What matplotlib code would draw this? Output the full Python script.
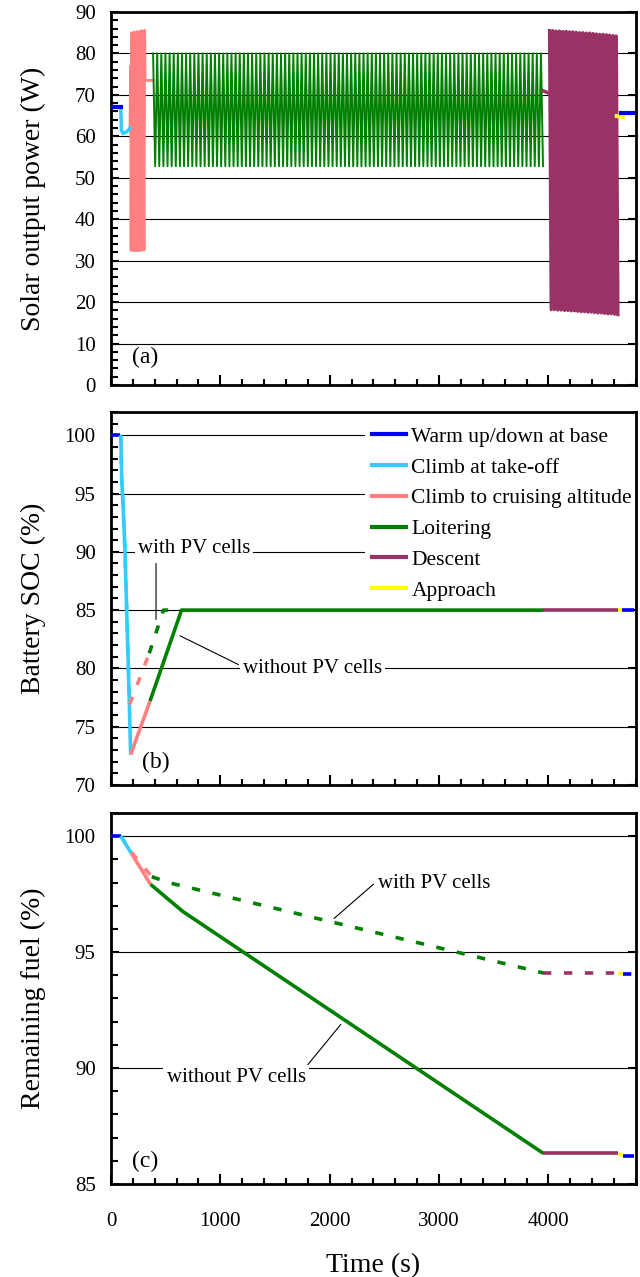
import matplotlib
matplotlib.use('Agg')
import matplotlib.pyplot as plt
import matplotlib.ticker as mticker
from matplotlib.lines import Line2D
import numpy as np

# ═══════════════════════════════════════════════════════════
# DATA
# ═══════════════════════════════════════════════════════════
phase_names = ['Warm up/down at base', 'Climb at take-off', 'Climb to cruising altitude',
               'Loitering', 'Descent', 'Approach']
phase_colors = ['#0000ff', '#33ccff', '#ff8080', '#008000', '#993366', '#ffff00']

# (a) solar output power (W)
pw_warm_t = [0, 88]
pw_warm = [67.0, 67.0]
pw_to_t = [88, 92, 95, 110, 150, 174]
pw_to = [67.0, 65.0, 61.5, 60.7, 61.2, 62.0]
pw_climb_t = [174, 180, 184, 190, 196, 202, 208, 214, 221, 228, 235, 242, 249, 257,
              265, 273, 282, 292, 302, 308, 312, 385]
pw_climb = [62.0, 77.0, 32.5, 85.0, 32.5, 84.5, 32.5, 85.2, 32.4, 84.8, 32.5, 85.3, 32.4, 85.0,
            32.5, 85.5, 32.5, 85.4, 32.6, 85.6, 73.5, 73.5]
pw_loit_span = [385, 3950]
pw_loit_hi = 80.0
pw_loit_lo = 52.8
pw_loit_cycles = 95
pw_desc_t0 = [3950, 4005]
pw_desc_p0 = [71.0, 70.4]
pw_desc_span = [4010, 4635]
pw_desc_hi = [85.5, 85.5, 85.4, 85.4, 85.3, 85.3, 85.2, 85.2, 85.1, 85.0, 85.0, 84.9,
              84.9, 84.8, 84.7, 84.6, 84.6, 84.5, 84.4, 84.3, 84.2]
pw_desc_lo = [18.2, 18.2, 18.1, 18.1, 18.0, 18.0, 17.9, 17.9, 17.8, 17.7, 17.7, 17.6,
              17.6, 17.5, 17.4, 17.4, 17.3, 17.2, 17.2, 17.1, 17.0]
pw_appr_t = [4625, 4680]
pw_appr = [64.9, 64.7]
pw_base2_t = [4660, 4775]
pw_base2 = [65.7, 65.7]

# (b) battery SOC (%) — without PV (solid) / with PV (dashed)
soc_warm_t = [0, 82]
soc_warm = [100, 100]
soc_to_t = [82, 90, 98, 113, 128, 143, 159, 168, 180]
soc_to = [100, 99.9, 96.3, 93.5, 90.1, 85.2, 80.0, 77.0, 72.6]
soc_climb_t = [180, 357]
soc_climb = [72.6, 77.2]
soc_loit_t = [357, 645, 3954]
soc_loit = [77.2, 85.0, 85.0]
soc_desc_t = [3954, 4635]
soc_desc = [85.0, 85.0]
soc_appr_t = [4635, 4675]
soc_appr = [85.0, 85.0]
soc_base2_t = [4675, 4780]
soc_base2 = [85.0, 85.0]

pv_soc_to_t = [82, 90, 98, 113, 128, 143, 159, 170]
pv_soc_to = [100, 99.9, 96.3, 93.5, 90.1, 85.2, 80.0, 76.9]
pv_soc_climb_t = [170, 350]
pv_soc_climb = [76.9, 81.3]
pv_soc_loit_t = [350, 480, 645]
pv_soc_loit = [81.3, 85.0, 85.0]

# (c) remaining fuel (%)
fuel_warm_t = [0, 90]
fuel_warm = [100, 100]
fuel_to_t = [90, 188]
fuel_to = [100, 99.25]
fuel_climb_t = [188, 362]
fuel_climb = [99.25, 97.92]
fuel_loit_t = [362, 660, 3954]
fuel_loit = [97.92, 96.74, 86.32]
fuel_desc_t = [3954, 4640]
fuel_desc = [86.32, 86.32]
fuel_appr_t = [4640, 4685]
fuel_appr = [86.32, 86.22]
fuel_base2_t = [4685, 4780]
fuel_base2 = [86.22, 86.22]

pv_fuel_to_t = [90, 188]
pv_fuel_to = [100, 99.3]
pv_fuel_climb_t = [188, 373]
pv_fuel_climb = [99.3, 98.25]
pv_fuel_loit_t = [373, 540, 3954]
pv_fuel_loit = [98.25, 97.98, 94.1]
pv_fuel_desc_t = [3954, 4640]
pv_fuel_desc = [94.1, 94.1]
pv_fuel_appr_t = [4640, 4680]
pv_fuel_appr = [94.1, 94.05]
pv_fuel_base2_t = [4680, 4780]
pv_fuel_base2 = [94.05, 94.05]

plt.rcParams.update({
    'font.family': 'Liberation Serif',
    'font.size': 15,
})

fig = plt.figure(figsize=(6.4, 12.77), dpi=100)
L, W = 0.1734, 0.8203
ax_a = fig.add_axes([L, 0.6985, W, 0.2921])
ax_b = fig.add_axes([L, 0.3853, W, 0.2921])
ax_c = fig.add_axes([L, 0.0728, W, 0.2906])

ANN = 15


def style_axis(ax, ylim, major, minor, grid_vals, ylabel, tag, tag_xy):
    ax.set_xlim(0, 4800)
    ax.set_ylim(*ylim)
    ax.xaxis.set_major_locator(mticker.MultipleLocator(1000))
    ax.xaxis.set_minor_locator(mticker.MultipleLocator(200))
    ax.yaxis.set_major_locator(mticker.MultipleLocator(major))
    ax.yaxis.set_minor_locator(mticker.MultipleLocator(minor))
    ax.tick_params(which='both', direction='in', width=1.5, colors='black', labelsize=15)
    ax.tick_params(which='major', length=6, right=True, pad=11)
    ax.tick_params(which='minor', length=5)
    ax.tick_params(axis='x', which='major', length=7, pad=20)
    ax.tick_params(axis='x', which='minor', length=4)
    for s in ax.spines.values():
        s.set_linewidth(2.0)
    for g in grid_vals:
        ax.axhline(g, color='black', lw=0.8, zorder=0.5)
    ax.set_ylabel(ylabel, fontsize=20)
    ax.yaxis.set_label_coords(-0.124, 0.5)
    ax.text(tag_xy[0], tag_xy[1], tag, fontsize=17, transform=ax.transAxes, va='center')


# ═══════════════════════════════════════════════════════════
# (a) Solar output power
# ═══════════════════════════════════════════════════════════
ax = ax_a
loit_t = np.linspace(pw_loit_span[0], pw_loit_span[1], 2 * pw_loit_cycles)
loit_p = np.tile([pw_loit_hi, pw_loit_lo], pw_loit_cycles)
desc_t = np.linspace(pw_desc_span[0], pw_desc_span[1], 2 * len(pw_desc_hi))
desc_p = np.ravel(np.column_stack([pw_desc_hi, pw_desc_lo]))

ax.plot(pw_climb_t, pw_climb, color=phase_colors[2], lw=2.0, zorder=3)
ax.plot(loit_t, loit_p, color=phase_colors[3], lw=1.4, zorder=3)
ax.plot(pw_desc_t0, pw_desc_p0, color=phase_colors[4], lw=2.5, zorder=3)
ax.plot(desc_t, desc_p, color=phase_colors[4], lw=2.4, zorder=3)
ax.plot(pw_to_t, pw_to, color=phase_colors[1], lw=2.5, zorder=4)
ax.plot(pw_warm_t, pw_warm, color=phase_colors[0], lw=3, zorder=4)
ax.plot(pw_appr_t, pw_appr, color=phase_colors[5], lw=3, zorder=4)
ax.plot(pw_base2_t, pw_base2, color=phase_colors[0], lw=3, zorder=4)
style_axis(ax, (0, 90), 10, 2, [10, 20, 30, 40, 50, 60, 70, 80],
           'Solar output power (W)', '(a)', (0.04, 0.075))
ax.tick_params(axis='x', labelbottom=False)

# ═══════════════════════════════════════════════════════════
# (b) Battery SOC
# ═══════════════════════════════════════════════════════════
ax = ax_b
lw = 2.6
dash = (2.3, 3.5)
solid = [(soc_warm_t, soc_warm, 0), (soc_to_t, soc_to, 1), (soc_climb_t, soc_climb, 2),
         (soc_loit_t, soc_loit, 3), (soc_desc_t, soc_desc, 4), (soc_appr_t, soc_appr, 5),
         (soc_base2_t, soc_base2, 0)]
for t, v, k in solid:
    ax.plot(t, v, color=phase_colors[k], lw=lw, solid_capstyle='butt', zorder=3)
dashed = [(pv_soc_to_t, pv_soc_to, 1), (pv_soc_climb_t, pv_soc_climb, 2),
          (pv_soc_loit_t, pv_soc_loit, 3)]
for t, v, k in dashed:
    ax.plot(t, v, color=phase_colors[k], lw=lw, dashes=dash, zorder=3)
style_axis(ax, (70, 102), 5, 1, [75, 80, 85, 90, 95, 100],
           'Battery SOC (%)', '(b)', (0.06, 0.06))
ax.tick_params(axis='x', labelbottom=False)

ax.text(760, 90.3, 'with PV cells', ha='center', va='center', fontsize=ANN, zorder=5,
        bbox=dict(boxstyle='square,pad=0.15', fc='white', ec='none'))
ax.annotate('', xy=(412, 84.2), xytext=(412, 89.0),
            arrowprops=dict(arrowstyle='-', color='black', lw=0.8, shrinkA=0, shrinkB=0))
ax.annotate('without PV cells', xy=(631, 82.8), xytext=(1840, 80.0),
            ha='center', va='center', fontsize=ANN,
            bbox=dict(boxstyle='square,pad=0.15', fc='white', ec='none'),
            arrowprops=dict(arrowstyle='-', color='black', lw=0.8, shrinkA=0, shrinkB=0,
                            relpos=(-0.03, 0.7)), zorder=5)

handles = [Line2D([], [], color=c, lw=3) for c in phase_colors]
leg = ax.legend(handles, phase_names, loc='upper left', bbox_to_anchor=(0.484, 0.978),
                frameon=True, fancybox=False, fontsize=15.5, handlelength=1.6,
                handletextpad=0.25, labelspacing=0.5, borderpad=0.3, borderaxespad=0)
leg.get_frame().set_facecolor('white')
leg.get_frame().set_edgecolor('none')
leg.get_frame().set_alpha(1)
leg.set_zorder(2)

# ═══════════════════════════════════════════════════════════
# (c) Remaining fuel
# ═══════════════════════════════════════════════════════════
ax = ax_c
solid = [(fuel_warm_t, fuel_warm, 0), (fuel_to_t, fuel_to, 1), (fuel_climb_t, fuel_climb, 2),
         (fuel_loit_t, fuel_loit, 3), (fuel_desc_t, fuel_desc, 4), (fuel_appr_t, fuel_appr, 5),
         (fuel_base2_t, fuel_base2, 0)]
for t, v, k in solid:
    ax.plot(t, v, color=phase_colors[k], lw=lw, solid_capstyle='butt', zorder=3)
dashed = [(pv_fuel_to_t, pv_fuel_to, 1), (pv_fuel_climb_t, pv_fuel_climb, 2),
          (pv_fuel_loit_t, pv_fuel_loit, 3), (pv_fuel_desc_t, pv_fuel_desc, 4),
          (pv_fuel_appr_t, pv_fuel_appr, 5), (pv_fuel_base2_t, pv_fuel_base2, 0)]
for t, v, k in dashed:
    ax.plot(t, v, color=phase_colors[k], lw=lw, dashes=dash, zorder=3)
style_axis(ax, (85, 101), 5, 1, [90, 95, 100],
           'Remaining fuel (%)', '(c)', (0.04, 0.06))
ax.set_xlabel('Time (s)', fontsize=20, labelpad=16)

ax.annotate('with PV cells', xy=(2040, 96.45), xytext=(2955, 97.97),
            ha='center', va='center', fontsize=ANN,
            arrowprops=dict(arrowstyle='-', color='black', lw=0.8, shrinkA=0, shrinkB=0,
                            relpos=(-0.04, 0.45)), zorder=5)
ax.annotate('without PV cells', xy=(2101, 91.88), xytext=(1144, 89.6),
            ha='center', va='center', fontsize=ANN,
            bbox=dict(boxstyle='square,pad=0.15', fc='white', ec='none'),
            arrowprops=dict(arrowstyle='-', color='black', lw=0.8, shrinkA=0, shrinkB=0,
                            relpos=(0.98, 0.85)), zorder=5)

fig.savefig('out.png', dpi=100)
plt.close()
